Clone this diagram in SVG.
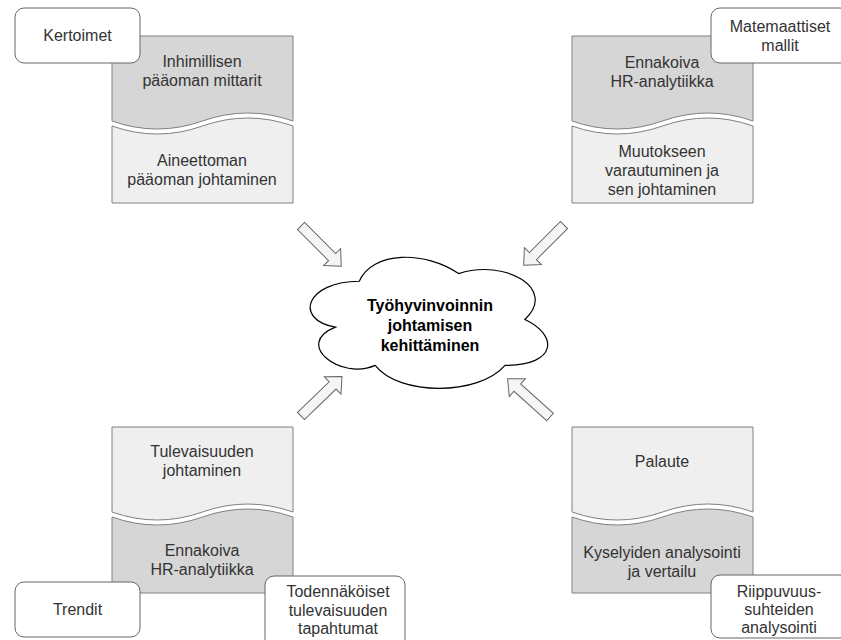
<svg xmlns="http://www.w3.org/2000/svg" width="841" height="640" viewBox="0 0 841 640">
<style>
text{font-family:"Liberation Sans",Arial,sans-serif;font-size:16px;fill:#333;text-anchor:middle}
.dk{fill:#d6d6d6;stroke:#808080;stroke-width:1}
.lt{fill:#efefef;stroke:#808080;stroke-width:1}
.rb{fill:#fff;stroke:#666;stroke-width:1}
.cl{fill:#fff;stroke:#000;stroke-width:1.2}
.ct{font-weight:bold;fill:#000}
.ar{fill:#f5f5f5;stroke:#666;stroke-width:1}
</style>
<defs>
<path id="arr" d="M0,-5 L44,-5 L44,-12 L57,0 L44,12 L44,5 L0,5 Z"/>
</defs>
<rect width="841" height="640" fill="#fff"/>
<g id="connectors">
<use href="#arr" class="ar" transform="translate(301,226) rotate(45)"/>
<use href="#arr" class="ar" transform="translate(564,225) rotate(135)"/>
<use href="#arr" class="ar" transform="translate(301,416) rotate(-44)"/>
<use href="#arr" class="ar" transform="translate(550,417) rotate(-138)"/>
</g>
<g id="box-tl">
<path class="dk" d="M112,36 H293 V121 Q247.75,105 202.5,121 Q157.25,137 112,121 Z"/>
<path class="lt" d="M112,126 Q157.25,142 202.5,126 Q247.75,110 293,126 V203 H112 Z"/>
<text x="202" y="67">Inhimillisen</text>
<text x="202" y="86">pääoman mittarit</text>
<text x="202" y="166">Aineettoman</text>
<text x="202" y="185">pääoman johtaminen</text>
</g>
<g id="box-tr">
<path class="dk" d="M572,36 H753 V121 Q707.75,105 662.5,121 Q617.25,137 572,121 Z"/>
<path class="lt" d="M572,126 Q617.25,142 662.5,126 Q707.75,110 753,126 V203 H572 Z"/>
<text x="662" y="68">Ennakoiva</text>
<text x="662" y="87">HR-analytiikka</text>
<text x="662" y="157">Muutokseen</text>
<text x="662" y="176">varautuminen ja</text>
<text x="662" y="195">sen johtaminen</text>
</g>
<g id="box-bl">
<path class="lt" d="M112,427 H293 V512 Q247.75,496 202.5,512 Q157.25,528 112,512 Z"/>
<path class="dk" d="M112,517 Q157.25,533 202.5,517 Q247.75,501 293,517 V593 H112 Z"/>
<text x="202" y="457">Tulevaisuuden</text>
<text x="202" y="476">johtaminen</text>
<text x="202" y="556">Ennakoiva</text>
<text x="202" y="575">HR-analytiikka</text>
</g>
<g id="box-br">
<path class="lt" d="M572,427 H753 V512 Q707.75,496 662.5,512 Q617.25,528 572,512 Z"/>
<path class="dk" d="M572,517 Q617.25,533 662.5,517 Q707.75,501 753,517 V593 H572 Z"/>
<text x="662" y="467">Palaute</text>
<text x="662" y="558">Kyselyiden analysointi</text>
<text x="662" y="577">ja vertailu</text>
</g>
<g id="kertoimet">
<rect class="rb" x="15" y="8" width="125" height="55" rx="9"/>
<text x="77.5" y="41">Kertoimet</text>
</g>
<g id="matemaattiset">
<rect class="rb" x="711" y="8" width="138" height="55" rx="9"/>
<text x="780" y="32">Matemaattiset</text>
<text x="780" y="51">mallit</text>
</g>
<g id="trendit">
<rect class="rb" x="15" y="582" width="125" height="55" rx="9"/>
<text x="77.5" y="615">Trendit</text>
</g>
<g id="todennakoiset">
<rect class="rb" x="265" y="576" width="140" height="72" rx="9"/>
<text x="338" y="597">Todennäköiset</text>
<text x="338" y="616">tulevaisuuden</text>
<text x="338" y="634">tapahtumat</text>
</g>
<g id="riippuvuus">
<rect class="rb" x="711" y="575" width="138" height="63" rx="9"/>
<text x="779" y="597">Riippuvuus-</text>
<text x="779" y="615">suhteiden</text>
<text x="779" y="633">analysointi</text>
</g>
<g id="cloud">
<path class="cl" d="M359.25,281.25 C306.25,281.25 293,319.5 335.4,327.15 C293,343.98 340.7,380.7 375.15,365.4 C399,396 478.5,396 505,365.4 C558,365.4 558,334.8 524.875,319.5 C558,288.9 505,258.3 458.625,273.6 C425.5,250.65 372.5,250.65 359.25,281.25 Z"/>
<text class="ct" x="430" y="311">Työhyvinvoinnin</text>
<text class="ct" x="430" y="331">johtamisen</text>
<text class="ct" x="430" y="351">kehittäminen</text>
</g>
</svg>
